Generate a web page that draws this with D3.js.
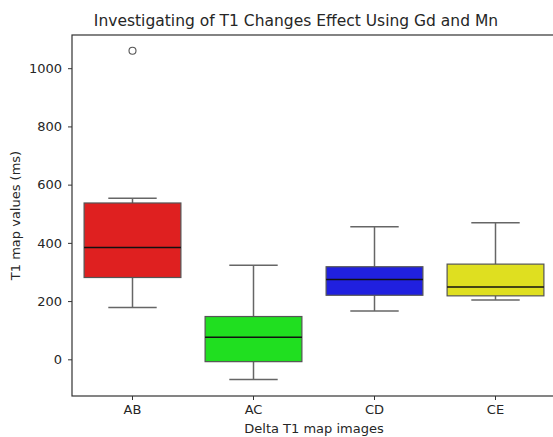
<!DOCTYPE html>
<html lang="en">
	<head>
		<meta charset="utf-8">
		<title>T1 changes box plot</title>
		<script src="https://cdn.jsdelivr.net/npm/d3@7"></script>
		<style>
			body { margin: 0; background: #fff; }
			text { font-family: "DejaVu Sans", sans-serif; fill: #262626; }
		</style>
	</head>
	<body>
		<script>
			// Data
			var categories = ["AB", "AC", "CD", "CE"];
			var whiskerLow = [178, -69, 166, 204];
			var q1 = [281, -8, 220, 218];
			var medians = [384, 76, 274, 248];
			var q3 = [537, 147, 318, 327];
			var whiskerHigh = [553, 323, 455, 469];
			var outliers = [[1060], [], [], []];
			var colors = ["#df2020", "#20df20", "#2020df", "#dfdf20"];
			var yTicks = [0, 200, 400, 600, 800, 1000];

			var w = 553, h = 437;
			var margin = { left: 72, right: -3, top: 35, bottom: 41 };

			var svg = d3.select("body").append("svg")
				.attr("width", w)
				.attr("height", h);

			var x = d3.scaleBand()
				.domain(categories)
				.range([margin.left, w - margin.right])
				.paddingInner(0.2)
				.paddingOuter(0.1);

			var y = d3.scaleLinear()
				.domain([-126, 1114])
				.range([h - margin.bottom, margin.top]);

			var boxes = categories.map(function(c, i) {
				return { cat: c, lo: whiskerLow[i], q1: q1[i], med: medians[i], q3: q3[i], hi: whiskerHigh[i], out: outliers[i], color: colors[i] };
			});

			var g = svg.selectAll("g.box")
				.data(boxes)
				.enter()
				.append("g")
				.attr("class", "box");

			var bw = x.bandwidth();
			var cx = function(d) { return x(d.cat) + bw / 2; };

			// whiskers
			g.append("line")
				.attr("x1", cx).attr("x2", cx)
				.attr("y1", function(d) { return y(d.hi); })
				.attr("y2", function(d) { return y(d.q3); })
				.attr("stroke", "#666").attr("stroke-width", 1.5);
			g.append("line")
				.attr("x1", cx).attr("x2", cx)
				.attr("y1", function(d) { return y(d.q1); })
				.attr("y2", function(d) { return y(d.lo); })
				.attr("stroke", "#666").attr("stroke-width", 1.5);

			// caps
			["hi", "lo"].forEach(function(k) {
				g.append("line")
					.attr("x1", function(d) { return cx(d) - bw / 4; })
					.attr("x2", function(d) { return cx(d) + bw / 4; })
					.attr("y1", function(d) { return y(d[k]); })
					.attr("y2", function(d) { return y(d[k]); })
					.attr("stroke", "#666").attr("stroke-width", 1.5);
			});

			// boxes
			g.append("rect")
				.attr("x", function(d) { return x(d.cat); })
				.attr("y", function(d) { return y(d.q3); })
				.attr("width", bw)
				.attr("height", function(d) { return y(d.q1) - y(d.q3); })
				.attr("fill", function(d) { return d.color; })
				.attr("stroke", "#555").attr("stroke-width", 1.2);

			// medians
			g.append("line")
				.attr("x1", function(d) { return x(d.cat); })
				.attr("x2", function(d) { return x(d.cat) + bw; })
				.attr("y1", function(d) { return y(d.med); })
				.attr("y2", function(d) { return y(d.med); })
				.attr("stroke", "#111").attr("stroke-width", 1.5);

			// outliers
			g.selectAll("circle")
				.data(function(d) { return d.out.map(function(v) { return { v: v, cat: d.cat }; }); })
				.enter()
				.append("circle")
				.attr("cx", cx)
				.attr("cy", function(d) { return y(d.v); })
				.attr("r", 3.5)
				.attr("fill", "none")
				.attr("stroke", "#555").attr("stroke-width", 1.1);

			// axes
			var xAxis = svg.append("g")
				.attr("transform", "translate(0," + (h - margin.bottom) + ")")
				.call(d3.axisBottom(x).tickSizeOuter(0).tickSize(4).tickPadding(5));
			var yAxis = svg.append("g")
				.attr("transform", "translate(" + margin.left + ",0)")
				.call(d3.axisLeft(y).tickValues(yTicks).tickFormat(d3.format("d")).tickSizeOuter(0).tickSize(4).tickPadding(6));
			[xAxis, yAxis].forEach(function(a) {
				a.selectAll("text").attr("font-size", "13px").attr("font-family", "DejaVu Sans").attr("fill", "#333");
				a.selectAll("line").attr("stroke", "#333");
				a.select(".domain").remove();
			});

			// spines
			svg.append("rect")
				.attr("x", margin.left).attr("y", margin.top)
				.attr("width", w - margin.right - margin.left)
				.attr("height", h - margin.bottom - margin.top)
				.attr("fill", "none")
				.attr("stroke", "#333").attr("stroke-width", 1.2);

			svg.append("text")
				.attr("x", 296).attr("y", 26)
				.attr("text-anchor", "middle")
				.attr("font-size", "15.5px")
				.text("Investigating of T1 Changes Effect Using Gd and Mn");

			svg.append("text")
				.attr("x", (margin.left + w - margin.right) / 2).attr("y", 433)
				.attr("text-anchor", "middle")
				.attr("font-size", "13px")
				.attr("fill", "#333")
				.text("Delta T1 map images");

			svg.append("text")
				.attr("transform", "translate(20," + ((margin.top + h - margin.bottom) / 2) + ") rotate(-90)")
				.attr("text-anchor", "middle")
				.attr("font-size", "13px")
				.attr("fill", "#333")
				.text("T1 map values (ms)");
		</script>
	</body>
</html>
